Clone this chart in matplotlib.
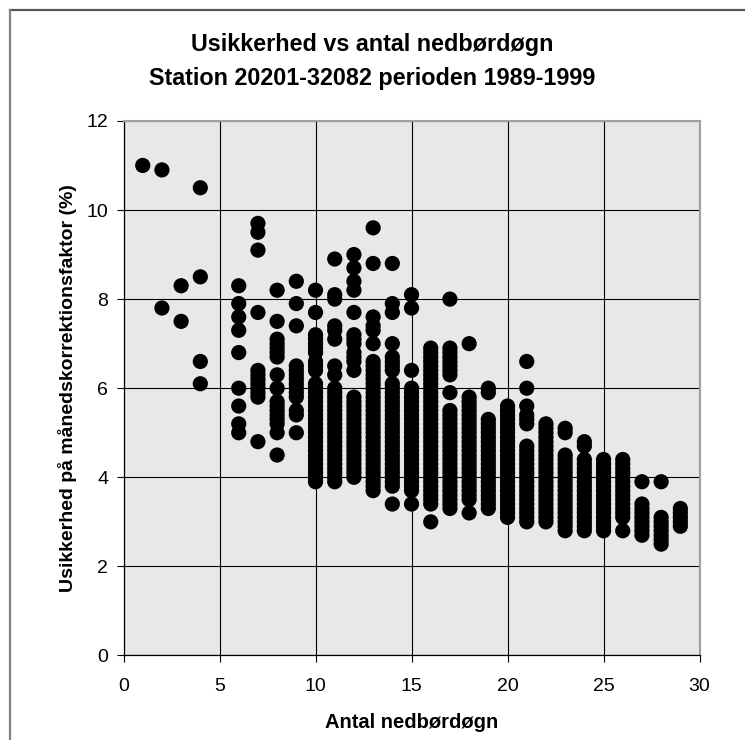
import matplotlib
matplotlib.use("Agg")
import matplotlib.pyplot as plt
from matplotlib.lines import Line2D

plt.rcParams['font.family'] = ['Liberation Sans', 'DejaVu Sans']

# usikkerhed (%) for hvert antal nedbørdøgn, aflæst kolonne for kolonne
d01 = [11.0]
d02 = [10.9, 7.8]
d03 = [8.3, 7.5]
d04 = [10.5, 8.5, 6.6, 6.1]
d06 = [8.3, 7.9, 7.6, 7.3, 6.8, 6.0, 5.6, 5.2, 5.0]
d07 = [9.7, 9.5, 9.1, 7.7, 6.4, 6.3, 6.2, 6.1, 6.0, 5.9, 5.8, 4.8]
d08 = [8.2, 7.5, 7.1, 7.0, 6.9, 6.8, 6.7, 6.3, 6.0, 5.7, 5.6, 5.5, 5.4,
       5.3, 5.2, 5.0, 4.5]
d09 = [8.4, 7.9, 7.4, 6.5, 6.4, 6.3, 6.2, 6.1, 6.0, 5.9, 5.8, 5.5, 5.4,
       5.0]
d10 = [8.2, 7.7, 7.2, 7.1, 7.0, 6.9, 6.8, 6.6, 6.5, 6.4,
       6.1, 6.0, 5.9, 5.8, 5.7, 5.6, 5.5, 5.4, 5.3, 5.2, 5.1, 5.0,
       4.9, 4.8, 4.7, 4.6, 4.5, 4.4, 4.3, 4.2, 4.1, 4.0, 3.9]
d11 = [8.9, 8.1, 8.0, 7.4, 7.3, 7.1, 6.5, 6.3,
       6.0, 5.9, 5.8, 5.7, 5.6, 5.5, 5.4, 5.3, 5.2, 5.1, 5.0,
       4.9, 4.8, 4.7, 4.6, 4.5, 4.4, 4.3, 4.2, 4.1, 4.0, 3.9]
d12 = [9.0, 8.7, 8.4, 8.2, 7.7, 7.2, 7.1, 7.0, 6.8, 6.7, 6.6, 6.4,
       5.8, 5.7, 5.6, 5.5, 5.4, 5.3, 5.2, 5.1, 5.0,
       4.9, 4.8, 4.7, 4.6, 4.5, 4.4, 4.3, 4.2, 4.1, 4.0]
d13 = [9.6, 8.8, 7.6, 7.4, 7.3, 7.0,
       6.6, 6.5, 6.4, 6.3, 6.2, 6.1, 6.0, 5.9, 5.8, 5.7, 5.6, 5.5, 5.4,
       5.3, 5.2, 5.1, 5.0, 4.9, 4.8, 4.7, 4.6, 4.5, 4.4, 4.3, 4.2, 4.1,
       4.0, 3.9, 3.8, 3.7]
d14 = [8.8, 7.9, 7.7, 7.0, 6.7, 6.6, 6.5, 6.4,
       6.1, 6.0, 5.9, 5.8, 5.7, 5.6, 5.5, 5.4, 5.3, 5.2, 5.1, 5.0,
       4.9, 4.8, 4.7, 4.6, 4.5, 4.4, 4.3, 4.2, 4.1, 4.0, 3.9, 3.8, 3.4]
d15 = [8.1, 7.8, 6.4,
       6.0, 5.9, 5.8, 5.7, 5.6, 5.5, 5.4, 5.3, 5.2, 5.1, 5.0,
       4.9, 4.8, 4.7, 4.6, 4.5, 4.4, 4.3, 4.2, 4.1, 4.0, 3.9, 3.8, 3.7,
       3.4]
d16 = [6.9, 6.8, 6.7, 6.6, 6.5, 6.4, 6.3, 6.2, 6.1, 6.0,
       5.9, 5.8, 5.7, 5.6, 5.5, 5.4, 5.3, 5.2, 5.1, 5.0,
       4.9, 4.8, 4.7, 4.6, 4.5, 4.4, 4.3, 4.2, 4.1, 4.0,
       3.9, 3.8, 3.7, 3.6, 3.5, 3.4, 3.0]
d17 = [8.0, 6.9, 6.8, 6.7, 6.6, 6.5, 6.4, 6.3, 5.9,
       5.5, 5.4, 5.3, 5.2, 5.1, 5.0, 4.9, 4.8, 4.7, 4.6, 4.5, 4.4, 4.3,
       4.2, 4.1, 4.0, 3.9, 3.8, 3.7, 3.6, 3.5, 3.4, 3.3]
d18 = [7.0, 5.8, 5.7, 5.6, 5.5, 5.4, 5.3, 5.2, 5.1, 5.0,
       4.9, 4.8, 4.7, 4.6, 4.5, 4.4, 4.3, 4.2, 4.1, 4.0,
       3.9, 3.8, 3.7, 3.6, 3.5, 3.2]
d19 = [6.0, 5.9, 5.3, 5.2, 5.1, 5.0, 4.9, 4.8, 4.7, 4.6, 4.5, 4.4, 4.3,
       4.2, 4.1, 4.0, 3.9, 3.8, 3.7, 3.6, 3.5, 3.4, 3.3]
d20 = [5.6, 5.5, 5.4, 5.3, 5.2, 5.1, 5.0, 4.9, 4.8, 4.7, 4.6, 4.5, 4.4,
       4.3, 4.2, 4.1, 4.0, 3.9, 3.8, 3.7, 3.6, 3.5, 3.4, 3.3, 3.2, 3.1]
d21 = [6.6, 6.0, 5.6, 5.4, 5.3, 5.2,
       4.7, 4.6, 4.5, 4.4, 4.3, 4.2, 4.1, 4.0, 3.9, 3.8, 3.7, 3.6, 3.5,
       3.4, 3.3, 3.2, 3.1, 3.0]
d22 = [5.2, 5.1, 5.0, 4.9, 4.8, 4.7, 4.6, 4.5, 4.4, 4.3, 4.2, 4.1, 4.0,
       3.9, 3.8, 3.7, 3.6, 3.5, 3.4, 3.3, 3.2, 3.1, 3.0]
d23 = [5.1, 5.0, 4.5, 4.4, 4.3, 4.2, 4.1, 4.0, 3.9, 3.8, 3.7, 3.6, 3.5,
       3.4, 3.3, 3.2, 3.1, 3.0, 2.9, 2.8]
d24 = [4.8, 4.7, 4.4, 4.3, 4.2, 4.1, 4.0, 3.9, 3.8, 3.7, 3.6, 3.5, 3.4,
       3.3, 3.2, 3.1, 3.0, 2.9, 2.8]
d25 = [4.4, 4.3, 4.2, 4.1, 4.0, 3.9, 3.8, 3.7, 3.6, 3.5, 3.4, 3.3, 3.2,
       3.1, 3.0, 2.9, 2.8]
d26 = [4.4, 4.3, 4.2, 4.1, 4.0, 3.9, 3.8, 3.7, 3.6, 3.5, 3.4, 3.3, 3.2,
       3.1, 2.8]
d27 = [3.9, 3.4, 3.3, 3.2, 3.1, 3.0, 2.9, 2.8, 2.7]
d28 = [3.9, 3.1, 3.0, 2.9, 2.8, 2.7, 2.6, 2.5]
d29 = [3.3, 3.2, 3.1, 3.0, 2.9]

days = [1, 2, 3, 4, 6, 7, 8, 9, 10, 11, 12, 13, 14, 15, 16, 17, 18, 19,
        20, 21, 22, 23, 24, 25, 26, 27, 28, 29]
columns = [d01, d02, d03, d04, d06, d07, d08, d09, d10, d11, d12, d13, d14,
           d15, d16, d17, d18, d19, d20, d21, d22, d23, d24, d25, d26, d27,
           d28, d29]

xs = []
ys = []
for day, vals in zip(days, columns):
    xs += [day] * len(vals)
    ys += vals

fig = plt.figure(figsize=(7.45, 7.40), dpi=100)
ax = fig.add_axes([0.1658, 0.1142, 0.7732, 0.7224])
ax.set_facecolor('#e8e8e8')

ax.scatter(xs, ys, s=120, c='black', edgecolors='none', zorder=3)

ax.set_xlim(0, 30)
ax.set_ylim(0, 12)
ax.set_xticks(range(0, 31, 5))
ax.set_yticks(range(0, 13, 2))
ax.grid(True, color='black', linewidth=0.8)
ax.set_axisbelow(True)
ax.tick_params(direction='out', length=5, width=0.8, labelsize=14,
               colors='black')
ax.tick_params(axis='x', pad=11)
ax.tick_params(axis='y', pad=6)

for side in ['top', 'right']:
    ax.spines[side].set_color('#a0a0a0')
    ax.spines[side].set_linewidth(1.5)
for side in ['left', 'bottom']:
    ax.spines[side].set_color('black')
    ax.spines[side].set_linewidth(0.9)

ax.set_xlabel('Antal nedbørdøgn', fontsize=14.5, fontweight='bold',
              labelpad=13)
ax.set_ylabel('Usikkerhed på månedskorrektionsfaktor (%)', fontsize=14,
              fontweight='bold', labelpad=7)

fig.text(0.5, 1 - 45 / 740, 'Usikkerhed vs antal nedbørdøgn', ha='center',
         va='center', fontsize=16.8, fontweight='bold')
fig.text(0.5, 1 - 78 / 740, 'Station 20201-32082 perioden 1989-1999',
         ha='center', va='center', fontsize=16.8, fontweight='bold')

# ramme om diagramområdet (kun top og venstre er med i udsnittet)
fig.add_artist(Line2D([9.5 / 745, 1], [1 - 10 / 740, 1 - 10 / 740],
                      color='#555555', linewidth=1.6))
fig.add_artist(Line2D([9.5 / 745, 9.5 / 745], [0, 1 - 10 / 740],
                      color='#808080', linewidth=1.6))

fig.savefig('out.png', dpi=100)
